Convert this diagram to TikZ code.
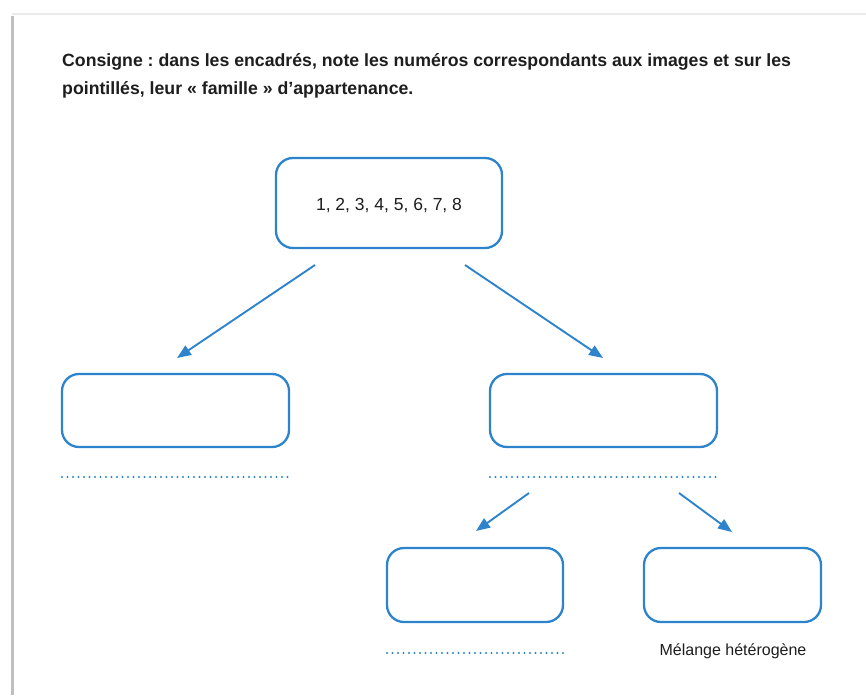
\documentclass[tikz,border=0pt]{standalone}
\usepackage{fontspec}
\setmainfont{Liberation Sans}
\usetikzlibrary{arrows.meta}
\definecolor{bl}{RGB}{46,132,204}
\definecolor{tx}{RGB}{30,30,30}
\frenchspacing
\begin{document}
\begin{tikzpicture}[x=1pt,y=-1pt,
  boxx/.style={draw=bl,line width=2.3pt,rounded corners=17pt,fill=white},
  arr/.style={draw=bl,line width=1.9pt,-{Triangle[length=14pt,width=11pt]}},
  dots/.style={draw=bl,line width=2.2pt,line cap=round,dash pattern=on 0pt off 5.5pt}]
\useasboundingbox (0,0) rectangle (866,695);
\fill[white] (0,0) rectangle (866,695);
% page shadow
\draw[black!25,line width=3pt] (12,16) -- (12,695);
\draw[black!8,line width=2pt] (12,14) -- (866,14);
% title
\node[anchor=base west,inner sep=0pt,font=\bfseries\fontsize{17.7}{20}\selectfont,text=tx] (t1) at (62,67) {Consigne : dans les encadrés, note les numéros correspondants aux images et sur les};
\node[anchor=base west,inner sep=0pt,font=\bfseries\fontsize{17.7}{20}\selectfont,text=tx] (t2) at (62,95) {pointillés, leur « famille » d’appartenance.};
% boxes
\node[boxx,minimum width=226pt,minimum height=90pt,text=tx] (top) at (389,203) {};
\node[anchor=base,font=\fontsize{17.5}{20}\selectfont,text=tx,inner sep=0pt] (num) at (389,210) {1, 2, 3, 4, 5, 6, 7, 8};
\node[boxx,minimum width=227pt,minimum height=73pt] (L) at (175.5,410.5) {};
\node[boxx,minimum width=227pt,minimum height=73pt] (R) at (603.5,410.5) {};
\node[boxx,minimum width=176pt,minimum height=74pt] (BL) at (475,585) {};
\node[boxx,minimum width=177pt,minimum height=74pt] (BR) at (732.5,585) {};
% arrows
\coordinate (a1s) at (315,265); \coordinate (a1e) at (177,358);
\coordinate (a2s) at (465,265); \coordinate (a2e) at (603,358);
\coordinate (a3s) at (529,493); \coordinate (a3e) at (476,531);
\coordinate (a4s) at (679,493); \coordinate (a4e) at (732,532);
\draw[arr] (a1s) -- (a1e);
\draw[arr] (a2s) -- (a2e);
\draw[arr] (a3s) -- (a3e);
\draw[arr] (a4s) -- (a4e);
% dotted lines
\coordinate (d1a) at (62,477); \coordinate (d1b) at (291,477);
\coordinate (d2a) at (490,477); \coordinate (d2b) at (719,477);
\coordinate (d3a) at (387,653); \coordinate (d3b) at (565,653);
\draw[dots] (d1a) -- (d1b);
\draw[dots] (d2a) -- (d2b);
\draw[dots] (d3a) -- (d3b);
\node[anchor=base,font=\fontsize{16}{19}\selectfont,text=tx,inner sep=0pt] (mh) at (733,655) {Mélange hétérogène};
\end{tikzpicture}
\end{document}
